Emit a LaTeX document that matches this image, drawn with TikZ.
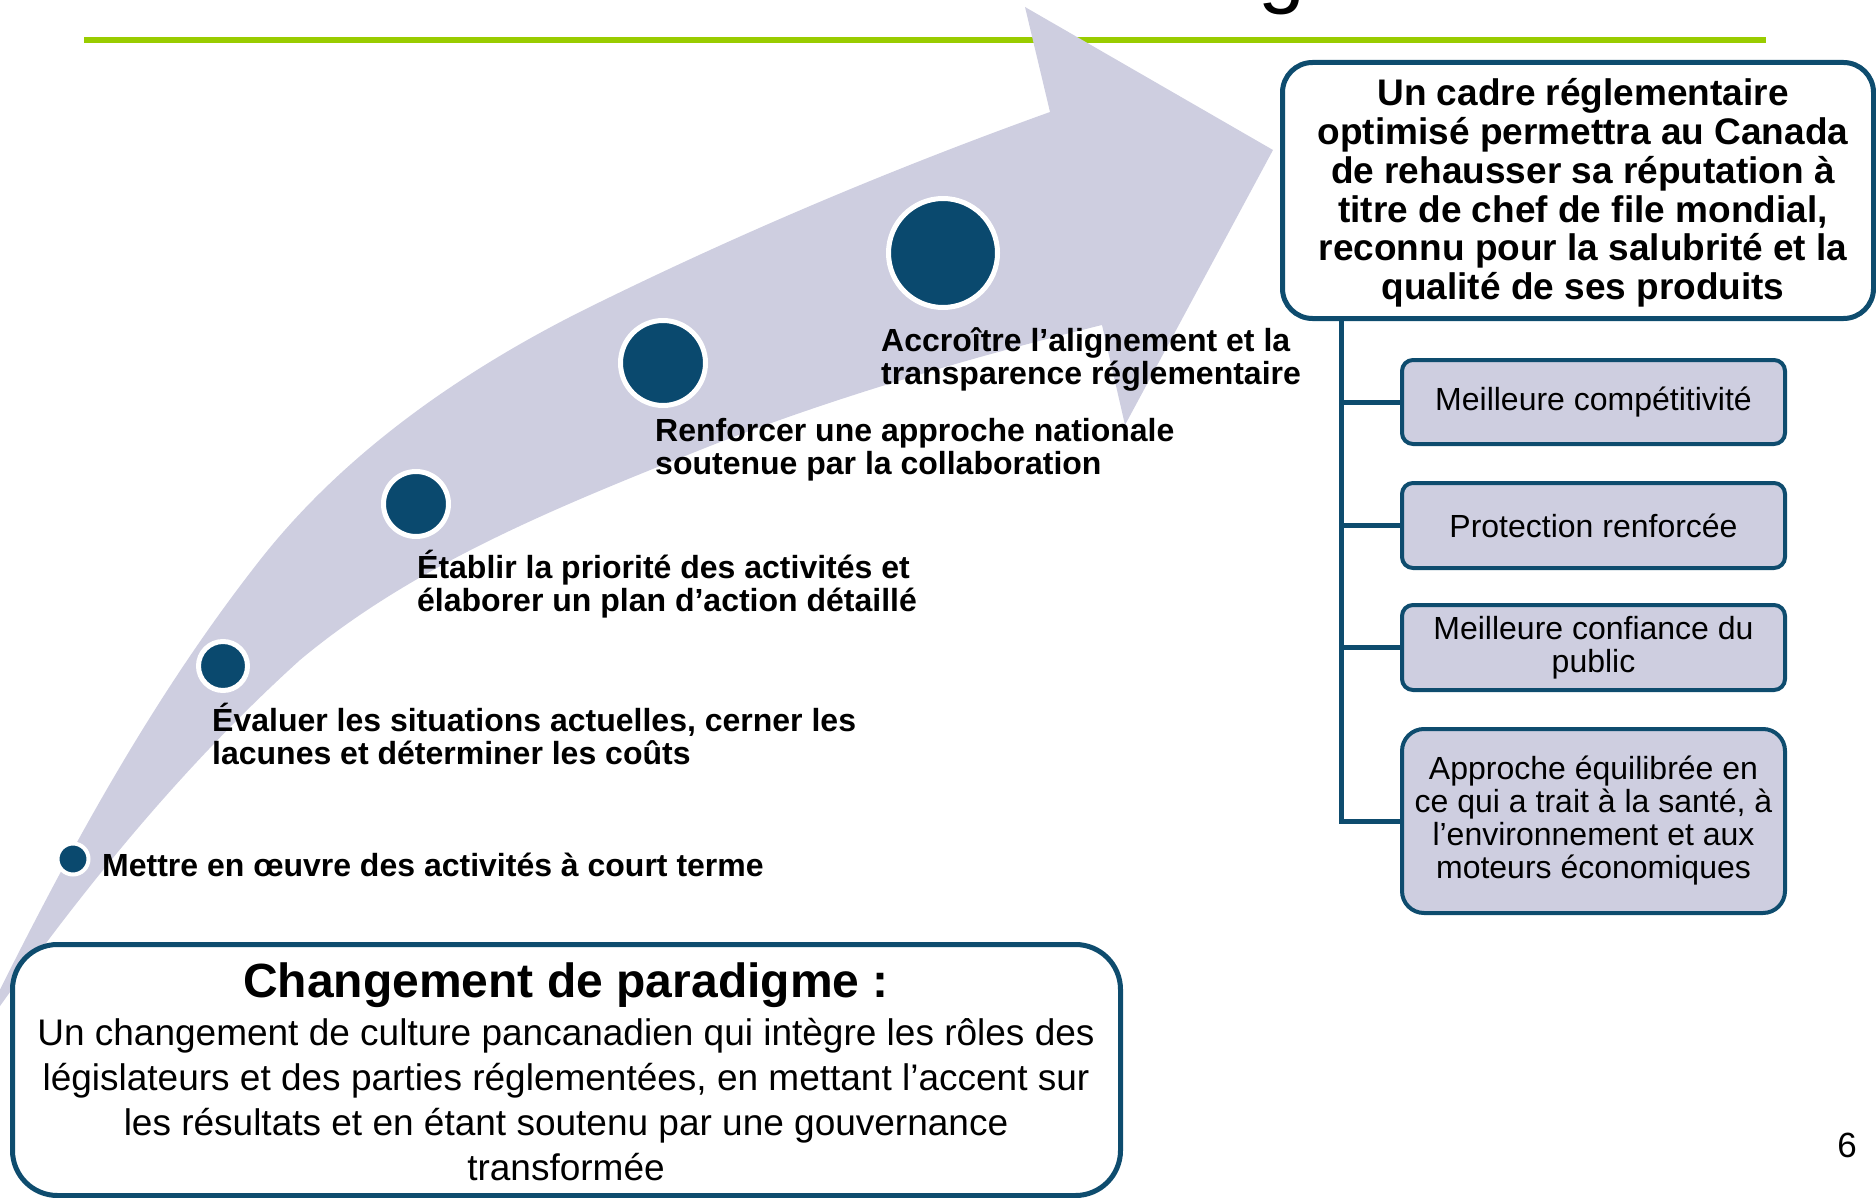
\documentclass[tikz,border=0pt]{standalone}
\usepackage{fontspec}
\setmainfont{Liberation Sans}
\definecolor{lav}{RGB}{206,206,224}
\definecolor{dotblue}{RGB}{10,73,110}
\definecolor{boxblue}{RGB}{14,76,110}
\definecolor{lime}{RGB}{153,204,0}
\tikzset{
  steplabel/.style={anchor=base west, align=left, inner sep=0pt, font=\bfseries\fontsize{32}{33.5}\selectfont},
  dot/.style={circle, fill=dotblue, draw=white, line width=5pt, inner sep=0pt},
  benefit/.style={draw=boxblue, line width=4pt, fill=lav, rounded corners=11pt, minimum width=383pt, align=center, inner sep=0pt, font=\fontsize{32}{33}\selectfont},
  link/.style={draw=boxblue, line width=5pt},
}
\begin{document}
\begin{tikzpicture}[x=1pt, y=-1pt]
\useasboundingbox (0,0) rectangle (1876,1198);
% cut-off title letter
\node[anchor=base west, inner sep=0pt, font=\fontsize{84}{90}\selectfont] (titleg) at (1258,-2) {g};
% green rule
\draw[lime, line width=6pt] (84,40) -- (1766,40);
% big curved arrow
\fill[lav] (-28,1046) .. controls (55,877) and (143,709) .. (260,560)
  .. controls (348,448) and (472,364) .. (600,302)
  .. controls (747,230) and (897,167) .. (1050,112)
  -- (1025,7) -- (1273,150) -- (1125,425) -- (1102,325)
  .. controls (972,357) and (825,400) .. (700,450)
  .. controls (560,506) and (415,564) .. (300,660)
  .. controls (175,773) and (68,907) .. (-28,1046) -- cycle;
% bottom box
\node[draw=boxblue, line width=5pt, fill=white, rounded corners=45pt, minimum width=1108pt, minimum height=251pt, inner sep=0pt] (para) at (566.5,1070) {};
\node[anchor=base, inner sep=0pt, font=\bfseries\fontsize{48}{52}\selectfont] (paratitle) at (566,997) {Changement de paradigme :};
\node[anchor=base, inner sep=0pt, align=center, font=\fontsize{37}{45}\selectfont] (parabody) at (566,1180)
  {Un changement de culture pancanadien qui intègre les rôles des\\législateurs et des parties réglementées, en mettant l’accent sur\\les résultats et en étant soutenu par une gouvernance\\transformée};
% milestones
\node[dot, minimum size=31pt, line width=4pt] (c1) at (73,859) {};
\node[dot, minimum size=49pt] (c2) at (223,666) {};
\node[dot, minimum size=65pt] (c3) at (416,504) {};
\node[dot, minimum size=85pt] (c4) at (663,363) {};
\node[dot, minimum size=109pt] (c5) at (943,253) {};
\node[steplabel] (l1) at (102,876) {Mettre en œuvre des activités à court terme};
\node[steplabel] (l2) at (212,764.5) {Évaluer les situations actuelles, cerner les\\lacunes et déterminer les coûts};
\node[steplabel] (l3) at (417,611.5) {Établir la priorité des activités et\\élaborer un plan d’action détaillé};
\node[steplabel] (l4) at (655,474.5) {Renforcer une approche nationale\\soutenue par la collaboration};
\node[steplabel] (l5) at (881,384.5) {Accroître l’alignement et la\\transparence réglementaire};
% outcome box
\node[draw=boxblue, line width=5pt, fill=white, rounded corners=30pt, minimum width=591pt, minimum height=256pt, inner sep=0pt] (top) at (1578,190.5) {};
\node[inner sep=0pt, align=center, font=\bfseries\fontsize{37}{38.8}\selectfont] (toptext) at (1583,193)
  {Un cadre réglementaire\\optimisé permettra au Canada\\de rehausser sa réputation à\\titre de chef de file mondial,\\reconnu pour la salubrité et la\\qualité de ses produits};
% benefits
\node[benefit, minimum height=84pt] (b1) at (1593.5,402) {Meilleure compétitivité};
\node[benefit, minimum height=85pt] (b2) at (1593.5,525.5) {Protection renforcée};
\node[benefit, minimum height=85pt] (b3) at (1593.5,647.5) {Meilleure confiance du\\public};
\node[benefit, minimum height=184pt, rounded corners=22pt] (b4) at (1593.5,821) {Approche équilibrée en\\ce qui a trait à la santé, à\\l’environnement et aux\\moteurs économiques};
\coordinate (trunk) at (1341,318);
\draw[link] (trunk) |- (b4.west);
\draw[link] (trunk |- b1.west) -- (b1.west);
\draw[link] (trunk |- b2.west) -- (b2.west);
\draw[link] (trunk |- b3.west) -- (b3.west);
% page number
\node[anchor=base, inner sep=0pt, font=\fontsize{35}{40}\selectfont] (pagenum) at (1847,1157) {6};
\end{tikzpicture}
\end{document}
